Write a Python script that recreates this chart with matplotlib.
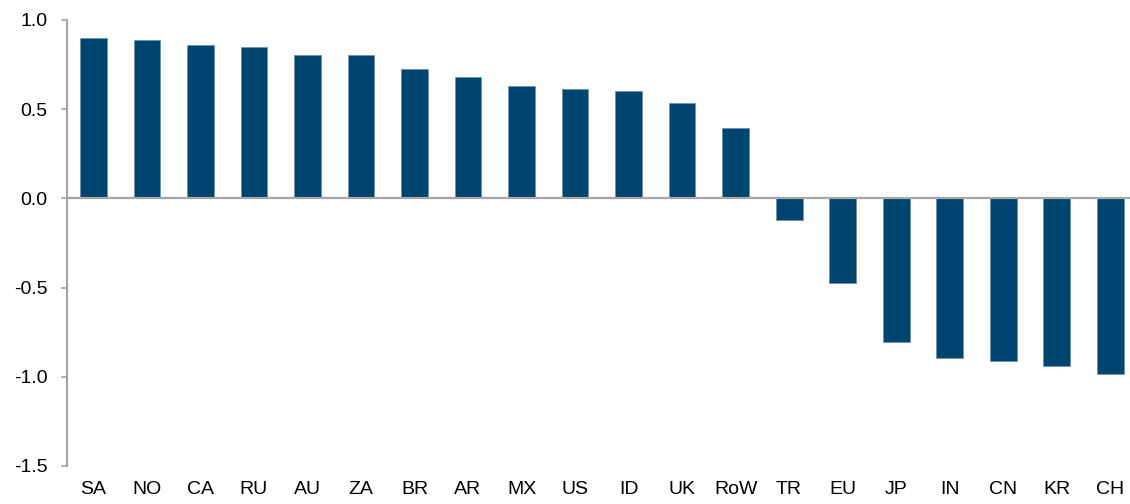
import numpy as np
import matplotlib.pyplot as plt

plt.rcParams['font.family'] = ['Liberation Sans', 'DejaVu Sans']

countries = ["SA", "NO", "CA", "RU", "AU", "ZA", "BR", "AR", "MX", "US",
             "ID", "UK", "RoW", "TR", "EU", "JP", "IN", "CN", "KR", "CH"]
values = [0.899, 0.888, 0.860, 0.849, 0.804, 0.804, 0.725, 0.680, 0.630, 0.613,
          0.602, 0.535, 0.395, -0.121, -0.474, -0.805, -0.894, -0.911, -0.939, -0.984]
yticks = [-1.5, -1.0, -0.5, 0.0, 0.5, 1.0]

fig = plt.figure(figsize=(11.3, 5.04), dpi=100)
ax = fig.add_axes([66.6 / 1130, 38 / 504, (1137 - 66.6) / 1130, 446 / 504])

x = np.arange(len(countries))
ax.bar(x, values, width=0.5, color="#004570", edgecolor="#6a93b0", linewidth=0.6, zorder=2)
ax.axhline(0, color="#a6a6a6", linewidth=1.6, zorder=3)

ax.set_xlim(-0.5, len(countries) - 0.5)
ax.set_ylim(-1.5, 1.0)
ax.set_yticks(yticks)
ax.set_yticklabels(["%.1f" % v for v in yticks])
ax.set_xticks(x)
ax.set_xticklabels(countries)

for s in ["top", "right", "bottom"]:
    ax.spines[s].set_visible(False)
ax.spines["left"].set_color("#a6a6a6")
ax.spines["left"].set_linewidth(1.6)

ax.tick_params(axis="y", length=4.5, width=1.2, color="#a6a6a6", pad=9, labelsize=14)
ax.tick_params(axis="x", length=0, pad=11, labelsize=14)

fig.savefig("out.png", dpi=100)
